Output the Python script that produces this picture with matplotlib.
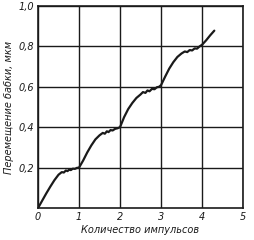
import matplotlib.pyplot as plt

# displacement vs number of pulses
pulses = [0.0, 0.1, 0.2, 0.3, 0.4, 0.5, 0.58, 0.63, 0.68, 0.72, 0.76, 0.8, 0.85, 0.9, 0.95, 1.0,
          1.1, 1.2, 1.3, 1.4, 1.5, 1.58, 1.63, 1.68, 1.72, 1.77, 1.82, 1.88, 1.94, 2.0,
          2.1, 2.2, 2.3, 2.4, 2.5, 2.56, 2.62, 2.67, 2.72, 2.78, 2.84, 2.9, 2.95, 3.0,
          3.1, 3.2, 3.3, 3.4, 3.5, 3.58, 3.64, 3.7, 3.76, 3.82, 3.88, 3.94, 4.0,
          4.1, 4.2, 4.3]
displacement = [0.0, 0.036, 0.072, 0.106, 0.138, 0.165, 0.178, 0.176, 0.186, 0.183, 0.19, 0.188, 0.195, 0.194, 0.199, 0.2,
                0.235, 0.275, 0.31, 0.34, 0.36, 0.372, 0.368, 0.38, 0.376, 0.386, 0.384, 0.392, 0.395, 0.4,
                0.45, 0.49, 0.52, 0.545, 0.562, 0.574, 0.57, 0.582, 0.578, 0.59, 0.588, 0.598, 0.6, 0.608,
                0.65, 0.69, 0.722, 0.748, 0.765, 0.775, 0.772, 0.782, 0.78, 0.79, 0.789, 0.8, 0.808,
                0.83, 0.855, 0.878]

x_ticks = [0, 1, 2, 3, 4, 5]
x_labels = ['0', '1', '2', '3', '4', '5']
y_ticks = [0.2, 0.4, 0.6, 0.8, 1.0]
y_labels = ['0,2', '0,4', '0,6', '0,8', '1,0']

ink = '#1a1a1a'

fig = plt.figure(figsize=(2.55, 2.4), dpi=100)
ax = fig.add_axes([0.149, 0.133, 0.804, 0.842])

ax.plot(pulses, displacement, color=ink, lw=1.6, solid_capstyle='round')

ax.set_xlim(0, 5)
ax.set_ylim(0, 1.0)
ax.set_xticks(x_ticks)
ax.set_xticklabels(x_labels, fontsize=7, style='italic', color=ink)
ax.set_yticks(y_ticks)
ax.set_yticklabels(y_labels, fontsize=7, style='italic', color=ink)
ax.tick_params(length=0, pad=3)
ax.grid(True, color=ink, lw=1.0)
for s in ax.spines.values():
    s.set_color(ink)
    s.set_linewidth(1.2)

ax.set_xlabel('Количество импульсов', fontsize=7, style='italic', color=ink, labelpad=2)
ax.set_ylabel('Перемещение бабки, мкм', fontsize=7, style='italic', color=ink, labelpad=3)

fig.savefig('out.png', dpi=100)
